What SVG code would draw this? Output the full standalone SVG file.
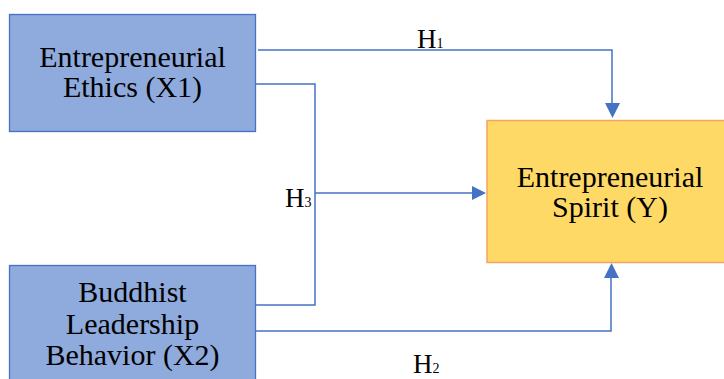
<svg xmlns="http://www.w3.org/2000/svg" width="724" height="379" viewBox="0 0 724 379">
<style>
.bx{fill:#8FAADC;stroke:#4472C4;stroke-width:1.3}
.by{fill:#FFD966;stroke:#F4A460;stroke-width:1.5}
.t{font-family:"Liberation Serif","Times New Roman",serif;font-size:30px;fill:#000;text-anchor:middle}
.h{font-family:"Liberation Serif","Times New Roman",serif;font-size:27px;fill:#000}
.c{fill:none;stroke:#4472C4;stroke-width:1.5}
.a{fill:#4472C4}
</style>
<rect width="724" height="379" fill="#fff"/>
<g id="connectors">
<polyline class="c" points="258,50 612,50 612,104"/>
<polygon class="a" points="605,103 620,103 612.5,118"/>
<polyline class="c" points="256,84 315,84 315,305 256,305"/>
<polyline class="c" points="315,193 473,193"/>
<polygon class="a" points="472,186 472,200 486,193"/>
<polyline class="c" points="256,331 611,331 611,278"/>
<polygon class="a" points="604,278 619,278 611.5,263"/>
<text class="h" x="417" y="48">H<tspan font-size="14">1</tspan></text>
<text class="h" x="285" y="207">H<tspan font-size="14">3</tspan></text>
<text class="h" x="413" y="373">H<tspan font-size="14">2</tspan></text>
</g>
<g id="x1">
<rect class="bx" x="9.5" y="14.5" width="246" height="117"/>
<text class="t" x="132.5" y="67">Entrepreneurial</text>
<text class="t" x="132.5" y="97">Ethics (X1)</text>
</g>
<g id="x2">
<rect class="bx" x="9.5" y="265.5" width="246" height="130"/>
<text class="t" x="132.5" y="302">Buddhist</text>
<text class="t" x="132.5" y="334">Leadership</text>
<text class="t" x="132.5" y="365">Behavior (X2)</text>
</g>
<g id="y">
<rect class="by" x="487" y="120.5" width="250" height="142"/>
<text class="t" x="610" y="187">Entrepreneurial</text>
<text class="t" x="610" y="217">Spirit (Y)</text>
</g>
</svg>
